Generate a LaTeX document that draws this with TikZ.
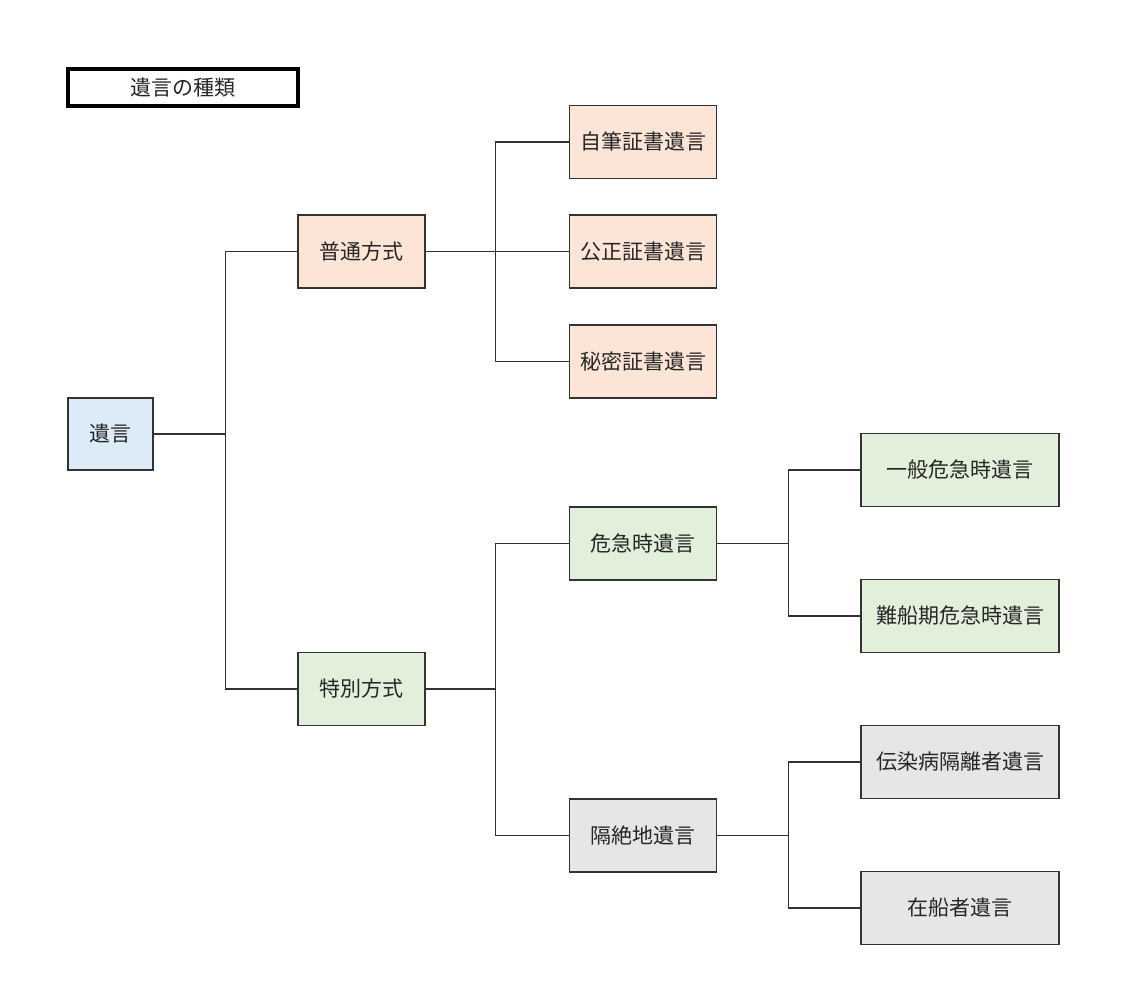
\documentclass[tikz,border=0pt]{standalone}
\usepackage{fontspec}
\setmainfont{Noto Sans CJK JP}
\definecolor{cblue}{HTML}{DDEBF7}
\definecolor{corange}{HTML}{FCE4D6}
\definecolor{cgreen}{HTML}{E2EFDA}
\definecolor{cgray}{HTML}{E6E6E6}
\definecolor{cline}{HTML}{333333}
\definecolor{ctext}{HTML}{262626}
\begin{document}
\begin{tikzpicture}[x=1pt,y=-1pt,
  box/.style={draw=cline,line width=1.5pt,rectangle,inner sep=0pt,
    minimum height=73pt,text=ctext,font=\fontsize{21}{25}\selectfont},
  w1/.style={box,minimum width=85pt,minimum height=72pt},
  w2/.style={box,minimum width=127pt},
  w3/.style={box,minimum width=147pt},
  w4/.style={box,minimum width=198pt},
  link/.style={draw=cline,line width=1.3pt}]
\useasboundingbox (0,0) rectangle (1125,1003);
\fill[white] (0,0) rectangle (1125,1003);
\node[draw=black,line width=3.2pt,minimum width=230pt,minimum height=37pt,inner sep=0pt,text=ctext,font=\fontsize{21}{25}\selectfont] (title) at (183,87.5) {遺言の種類};
\node[w1,fill=cblue] (root) at (110.5,434) {遺言};
\node[w2,fill=corange] (futsu) at (361.5,251.5) {普通方式};
\node[w2,fill=cgreen] (toku) at (361.5,689) {特別方式};
\node[w3,fill=corange] (jihitsu) at (643,142) {自筆証書遺言};
\node[w3,fill=corange] (kosei) at (643,251.5) {公正証書遺言};
\node[w3,fill=corange] (himitsu) at (643,361.5) {秘密証書遺言};
\node[w3,fill=cgreen] (kikyu) at (643,543.5) {危急時遺言};
\node[w3,fill=cgray] (kakuzetsu) at (643,835.5) {隔絶地遺言};
\node[w4,fill=cgreen] (ippan) at (960,470) {一般危急時遺言};
\node[w4,fill=cgreen] (nansen) at (960,616) {難船期危急時遺言};
\node[w4,fill=cgray] (densen) at (960,762) {伝染病隔離者遺言};
\node[w4,fill=cgray] (zaisen) at (960,908) {在船者遺言};
% level 1
\draw[link] (futsu.west) -- ++(-72,0) |- (root.east);
\draw[link] (toku.west) -- ++(-72,0) |- (root.east);
% level 2
\draw[link] (futsu.east) -- (kosei.west);
\draw[link] (jihitsu.west) -- ++(-73,0) |- (futsu.east);
\draw[link] (himitsu.west) -- ++(-73,0) |- (futsu.east);
\draw[link] (kikyu.west) -- ++(-73,0) |- (toku.east);
\draw[link] (kakuzetsu.west) -- ++(-73,0) |- (toku.east);
% level 3
\draw[link] (ippan.west) -- ++(-72,0) |- (kikyu.east);
\draw[link] (nansen.west) -- ++(-72,0) |- (kikyu.east);
\draw[link] (densen.west) -- ++(-72,0) |- (kakuzetsu.east);
\draw[link] (zaisen.west) -- ++(-72,0) |- (kakuzetsu.east);
\end{tikzpicture}
\end{document}
